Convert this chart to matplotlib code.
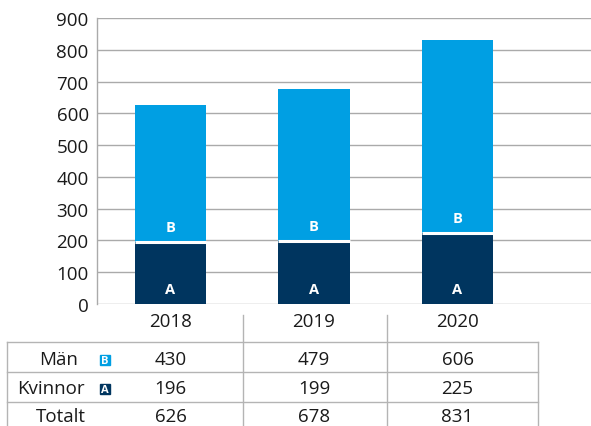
import matplotlib
matplotlib.use("Agg")
import matplotlib.pyplot as plt
import matplotlib.transforms as mtransforms
from matplotlib.patches import Rectangle

plt.rcParams['font.family'] = ['Open Sans', 'DejaVu Sans']

years = ["2018", "2019", "2020"]
kvinnor = [196, 199, 225]
man = [430, 479, 606]
totalt = [626, 678, 831]
yticks = [0, 100, 200, 300, 400, 500, 600, 700, 800, 900]

LIGHT = "#009fe3"
DARK = "#00355f"
GRID = "#aaaaaa"
TABLE = "#b4b4b4"
FS = 13.5

W, H = 591, 427
fig = plt.figure(figsize=(W / 100, H / 100), dpi=100)

# chart area in pixels: x 97..591, y 19..305
ax = fig.add_axes([97 / W, 1 - 305 / H, (W - 97) / W, (305 - 19) / H])
x = list(range(len(years)))
width = 0.495
ax.bar(x, kvinnor, width, color=DARK, zorder=2)
ax.bar(x, man, width, bottom=kvinnor, color=LIGHT, zorder=2)
for i in x:
    ax.plot([i - width / 2, i + width / 2], [kvinnor[i], kvinnor[i]],
            color="white", lw=2.2, zorder=3, solid_capstyle="butt")
    ax.text(i, 47, "A", color="white", fontsize=10.5, fontweight="bold",
            ha="center", va="center", zorder=4)
    ax.text(i, kvinnor[i] + 45, "B", color="white", fontsize=10.5,
            fontweight="bold", ha="center", va="center", zorder=4)

ax.set_xlim(-0.512, 2.93)
ax.set_ylim(0, 900)
ax.set_yticks(yticks)
ax.set_xticks([])
ax.tick_params(axis="y", length=0, pad=6, labelsize=FS, labelcolor="#1a1a1a")
ax.grid(axis="y", color=GRID, lw=1, zorder=0)
for s in ["top", "right", "bottom"]:
    ax.spines[s].set_visible(False)
ax.spines["left"].set_color(GRID)
ax.spines["left"].set_linewidth(1)

# overlay in pixel coordinates for the data table
tab = fig.add_axes([0, 0, 1, 1], zorder=-1)
tab.set_xlim(0, W)
tab.set_ylim(H, 0)
tab.axis("off")
tab.patch.set_alpha(0)
blend = mtransforms.blended_transform_factory(ax.transData, tab.transData)

for yy in [343, 373, 403, 432]:
    tab.plot([7, 538], [yy, yy], color=TABLE, lw=1, clip_on=False)
for xx, top in [(7, 343), (243, 316), (387, 316), (538, 343)]:
    tab.plot([xx, xx], [top, 440], color=TABLE, lw=1, clip_on=False)

rows = [(man, 360), (kvinnor, 389), (totalt, 417)]
for i in x:
    tab.text(i, 322, years[i], transform=blend, ha="center", va="center",
             fontsize=FS, color="#1a1a1a")
    for vals, yy in rows:
        tab.text(i, yy, str(vals[i]), transform=blend, ha="center",
                 va="center", fontsize=FS, color="#1a1a1a")

tab.text(78, 360, "Män", ha="right", va="center", fontsize=FS, color="#1a1a1a")
tab.text(85, 389, "Kvinnor", ha="right", va="center", fontsize=FS,
         color="#1a1a1a")
tab.text(86, 417, "Totalt", ha="right", va="center", fontsize=FS,
         color="#1a1a1a")
for yy, col, lab in [(361, LIGHT, "B"), (390, DARK, "A")]:
    tab.add_patch(Rectangle((100, yy - 5), 10, 10, color=col))
    tab.text(105, yy + 0.5, lab, color="white", fontsize=8,
             fontweight="bold", ha="center", va="center")

fig.savefig("out.png", dpi=100)
